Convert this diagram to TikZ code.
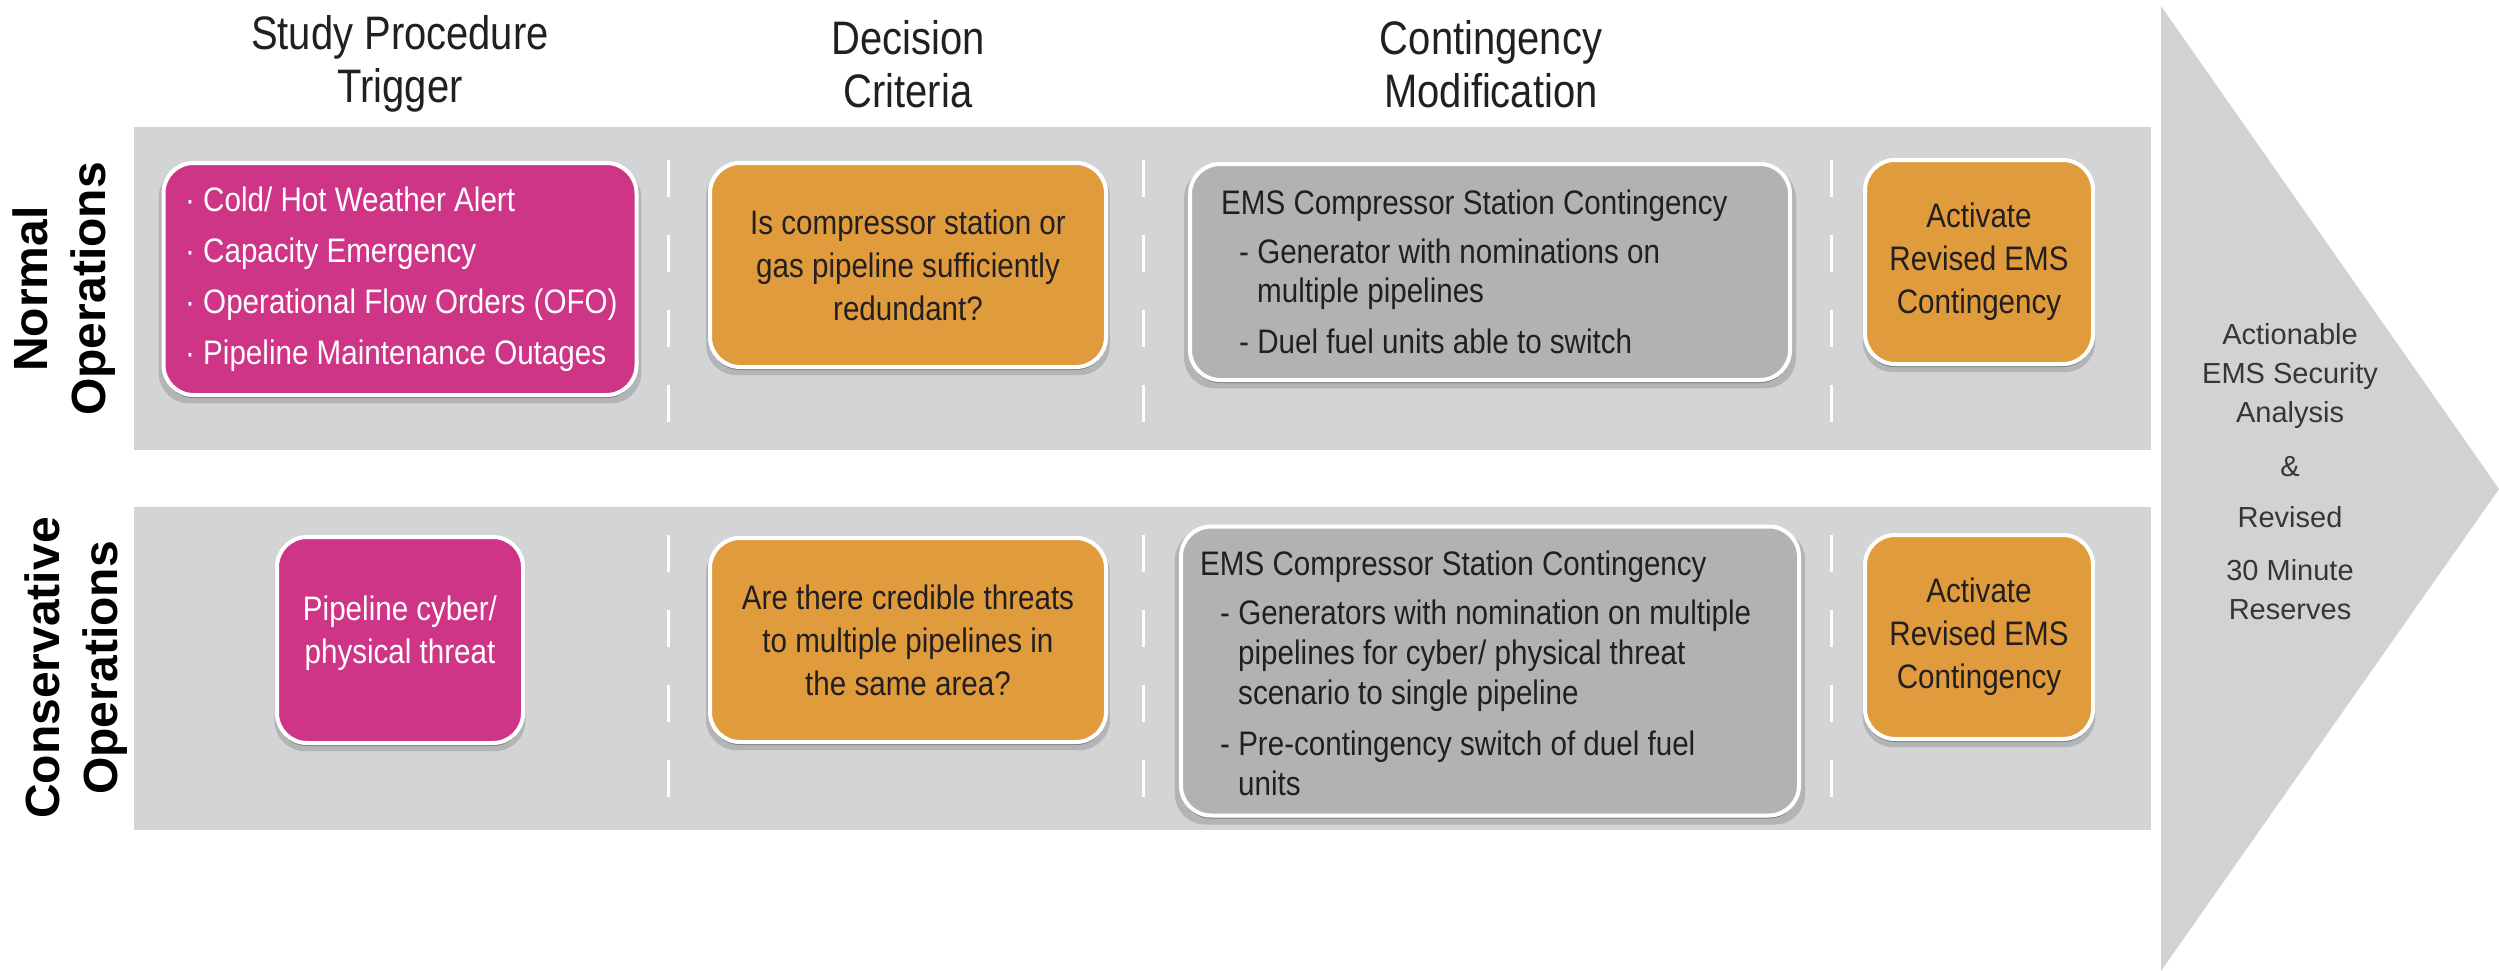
\documentclass[tikz,border=0pt]{standalone}
\usepackage{fontspec}
\setmainfont{Liberation Sans}
\newfontfamily\narrowfont[FakeStretch=0.87]{Liberation Sans}
\newfontfamily\headfont[FakeStretch=0.85]{Liberation Sans}
\usetikzlibrary{shadows}

\definecolor{trigmag}{HTML}{CF3587}
\definecolor{critorange}{HTML}{E09C3C}
\definecolor{contgray}{HTML}{B1B2B4}
\definecolor{bandgray}{HTML}{D3D4D6}
\definecolor{arrowgray}{HTML}{D1D2D4}
\definecolor{inkdark}{HTML}{231F20}

\begin{document}
\begin{tikzpicture}[
    x=1pt, y=-1pt,
    headtext/.style={font=\headfont\fontsize{47}{53}\selectfont, text=inkdark, align=center, inner sep=0pt},
    rowtext/.style={font=\bfseries\fontsize{48}{58}\selectfont, rotate=90, align=center, inner sep=0pt},
    boxtext/.style={font=\narrowfont\fontsize{34}{43}\selectfont, align=center, inner sep=0pt},
    bodytext/.style={font=\narrowfont\fontsize{34}{40}\selectfont, text=inkdark, align=left, inner sep=0pt, anchor=west},
    resulttext/.style={font=\fontsize{29}{39}\selectfont, text=inkdark!90, align=center, inner sep=0pt},
    roundbox/.style={boxtext, draw=white, line width=4pt, rounded corners=30pt,
      general shadow={fill=black, opacity=0.15, shadow scale=1.02, shadow yshift=-6pt},
      general shadow={fill=black, opacity=0.3, shadow yshift=-3pt}},
    trigbox/.style={roundbox, fill=trigmag, text=white},
    critbox/.style={roundbox, fill=critorange, text=inkdark, minimum width=396, minimum height=204},
    actbox/.style={roundbox, fill=critorange, text=inkdark, minimum width=228, minimum height=204},
    contbox/.style={roundbox, fill=contgray},
    sepline/.style={draw=white, line width=3pt, dash pattern=on 37pt off 38pt},
  ]
  \useasboundingbox (0,0) rectangle (2499,971);

  % column headings
  \node[headtext] (head1) at (400,64) {Study Procedure\\Trigger};
  \node[headtext] (head2) at (908,64) {Decision\\Criteria};
  \node[headtext] (head3) at (1491,64) {Contingency\\Modification};

  % outcome arrow
  \fill[arrowgray] (2161,6) -- (2499,489) -- (2161,971) -- cycle;
  \node[resulttext] (result) at (2290,472)
    {Actionable\\EMS Security\\Analysis\\[15pt]\&\\[12pt]Revised\\[14pt]30 Minute\\Reserves};

  % bands and dashed column breaks
  \fill[bandgray] (134,127) rectangle (2151,450);
  \fill[bandgray] (134,507) rectangle (2151,830);
  \foreach \x in {668,1143,1831} {
    \draw[sepline] (\x,160) -- (\x,423);
    \draw[sepline] (\x,535) -- (\x,798);
  }

  % normal operations
  \node[rowtext] (normal) at (64,289) {Normal\\Operations};
  \node[trigbox, minimum width=473, minimum height=232] (trig1) at (400,279) {};
  \node[bodytext, text=white, font=\narrowfont\fontsize{34}{51}\selectfont] (trig1txt) at (185,279)
    {· Cold/ Hot Weather Alert\\· Capacity Emergency\\· Operational Flow Orders (OFO)\\· Pipeline Maintenance Outages};
  \node[critbox] (crit1) at (908,265)
    {Is compressor station or\\gas pipeline sufficiently\\redundant?};
  \node[contbox, minimum width=600, minimum height=216] (cont1) at (1490,272) {};
  \node[bodytext, font=\narrowfont\fontsize{34}{39}\selectfont] (cont1txt) at (1221,272)
    {EMS Compressor Station Contingency\\[10pt]
     \hspace*{18pt}- Generator with nominations on\\
     \hspace*{36pt}multiple pipelines\\[12pt]
     \hspace*{18pt}- Duel fuel units able to switch};
  \node[actbox] (act1) at (1979,262) {Activate\\Revised EMS\\Contingency};

  % conservative operations
  \node[rowtext] (conserv) at (76,668) {Conservative\\Operations};
  \node[trigbox, minimum width=246, minimum height=206] (trig2) at (400,640) {};
  \node[boxtext, text=white] (trig2txt) at (400,633) {Pipeline cyber/\\physical threat};
  \node[critbox] (crit2) at (908,640)
    {Are there credible threats\\to multiple pipelines in\\the same area?};
  \node[contbox, minimum width=618, minimum height=289] (cont2) at (1490,671) {};
  \node[bodytext] (cont2txt) at (1200,673)
    {EMS Compressor Station Contingency\\[9pt]
     \hspace*{20pt}- Generators with nomination on multiple\\
     \hspace*{38pt}pipelines for cyber/ physical threat\\
     \hspace*{38pt}scenario to single pipeline\\[11pt]
     \hspace*{20pt}- Pre-contingency switch of duel fuel\\
     \hspace*{38pt}units};
  \node[actbox] (act2) at (1979,637) {Activate\\Revised EMS\\Contingency};
\end{tikzpicture}
\end{document}
